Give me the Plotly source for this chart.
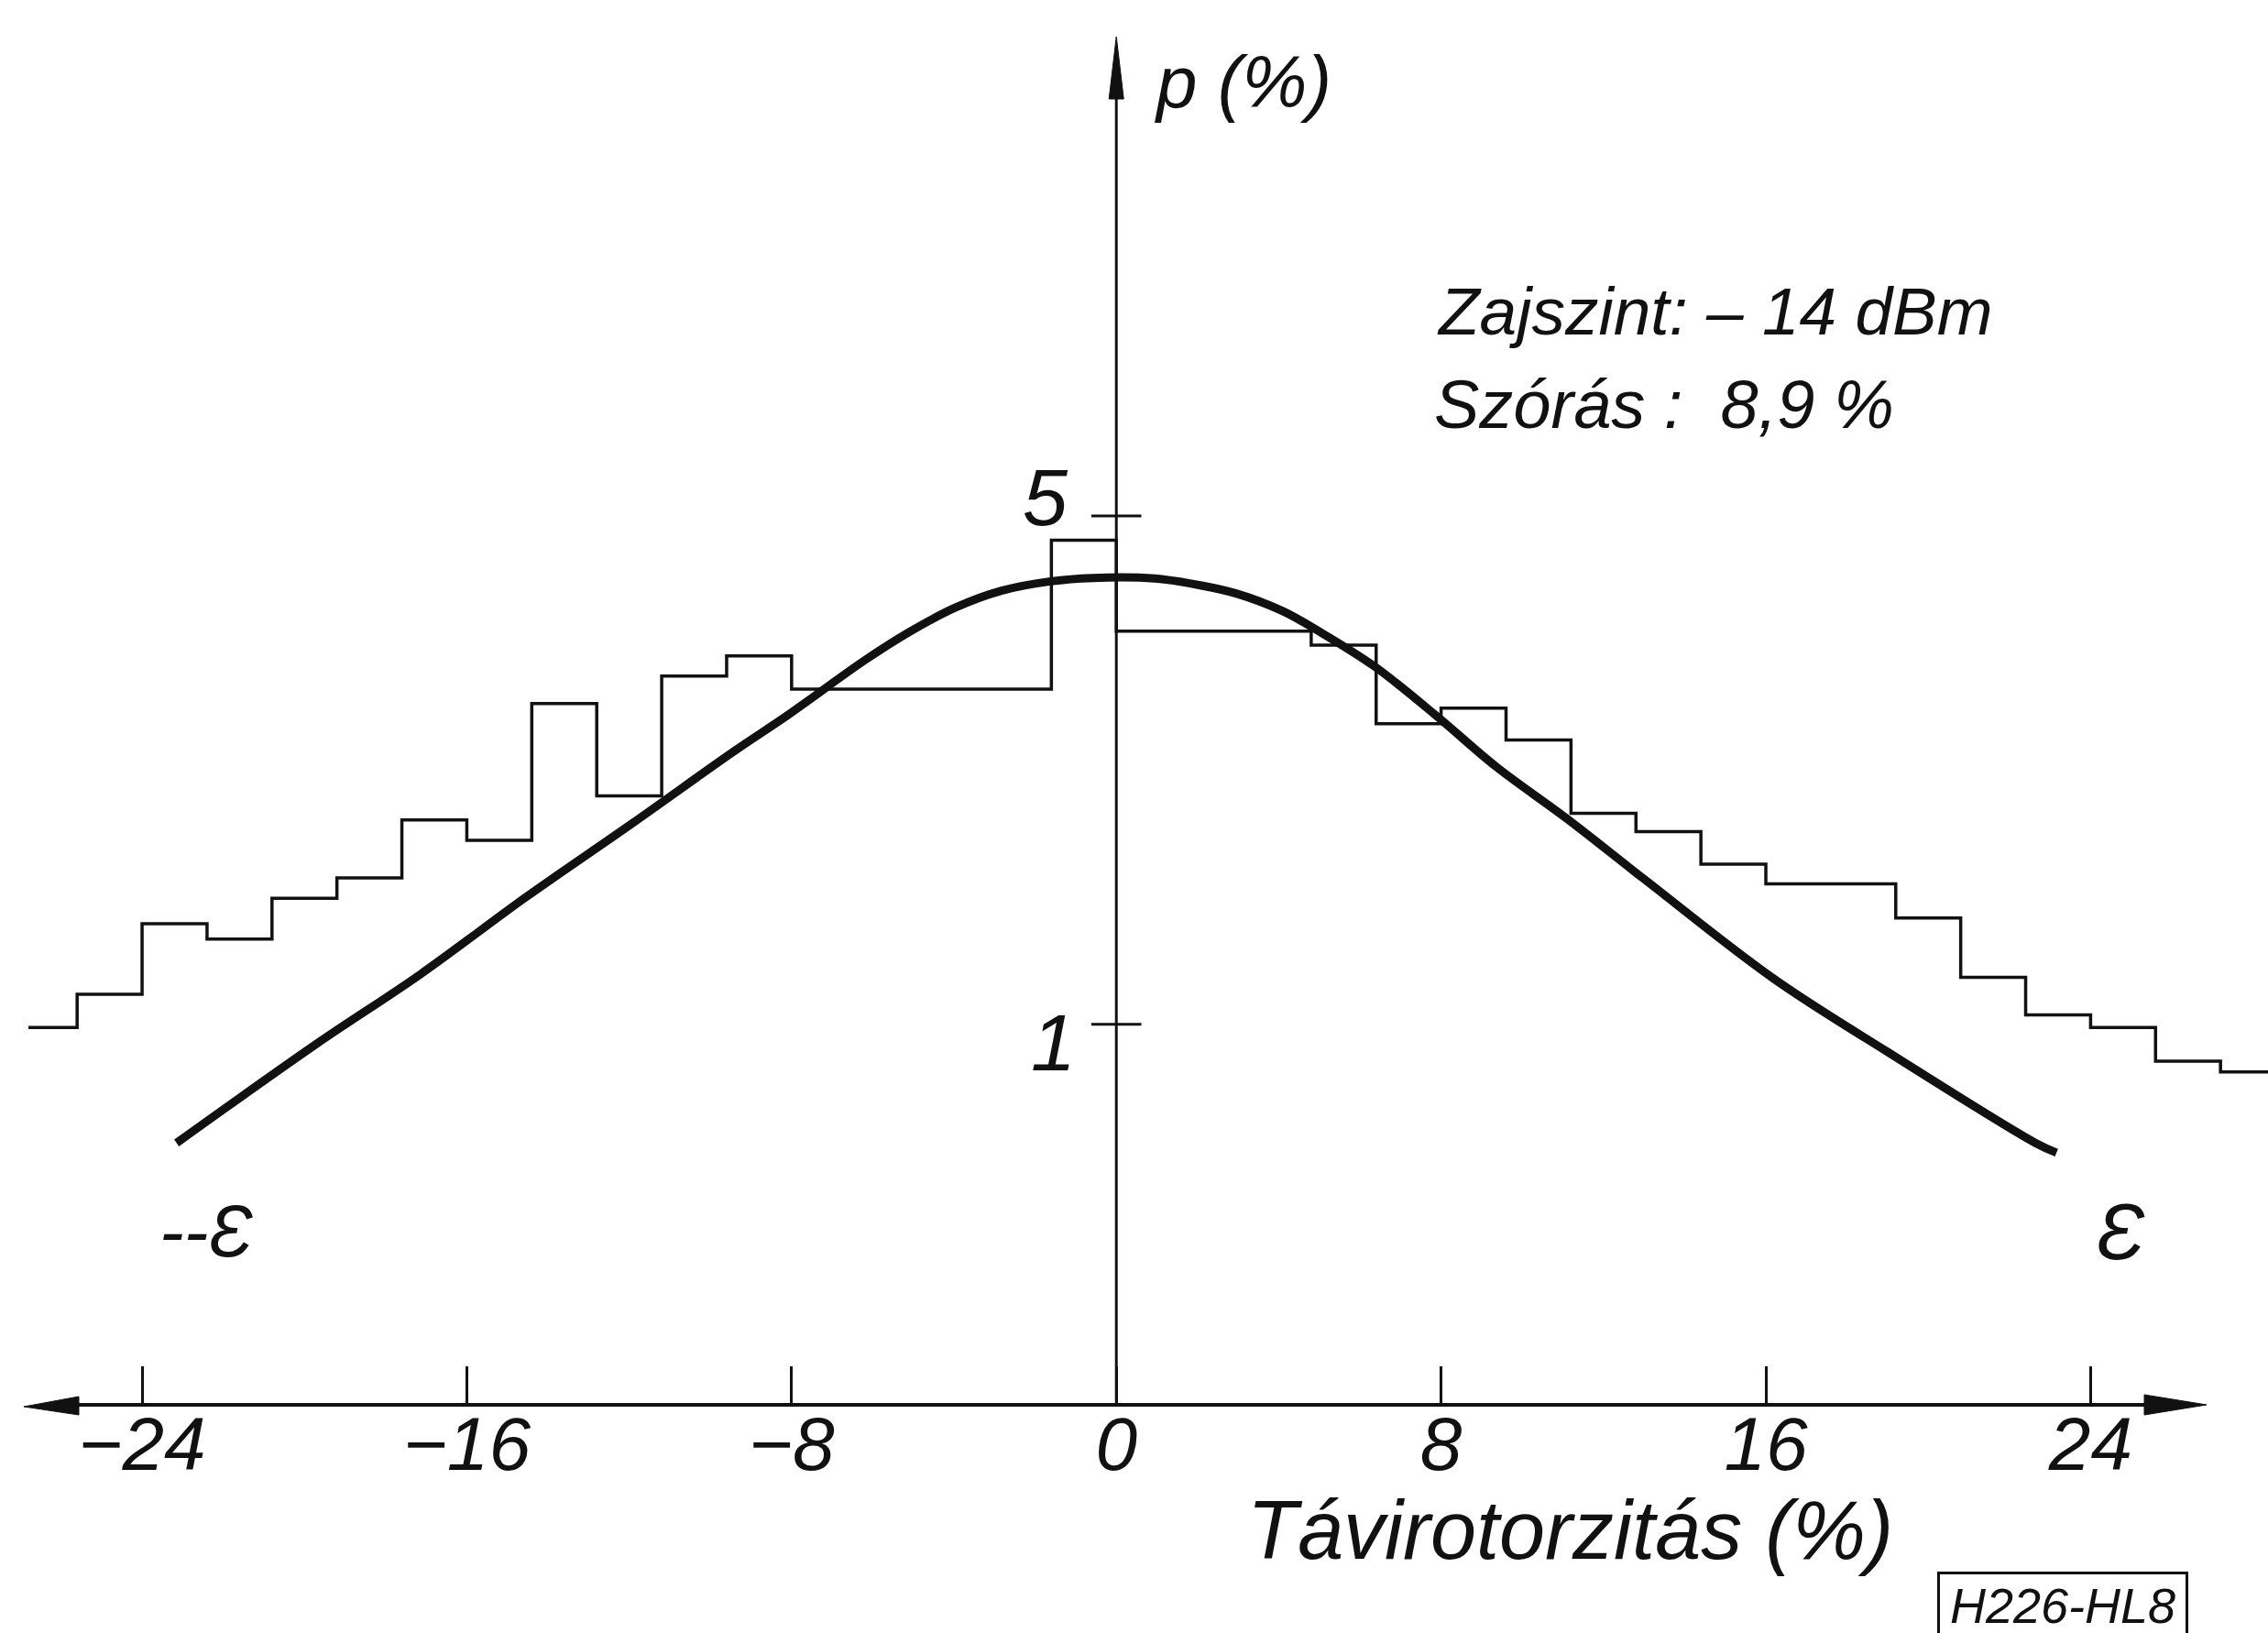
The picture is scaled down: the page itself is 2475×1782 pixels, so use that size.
import math
import plotly.graph_objects as go

# ---------------- data ----------------
# histogram of telegraph distortion, bin edges in % and p in %
bin_edges = [-26.8, -25.6, -24.0, -22.4, -20.8, -19.2, -17.6, -16.0, -14.4, -12.8,
             -11.2, -9.6, -8.0, -6.4, -4.8, -3.2, -1.6, 0.0, 1.6, 3.2,
             4.8, 6.4, 8.0, 9.6, 11.2, 12.8, 14.4, 16.0, 17.6, 19.2,
             20.8, 22.4, 24.0, 25.6, 27.2, 28.4]
bin_values = [0.99, 1.10, 1.375, 1.31, 1.49, 1.59, 1.91, 1.79, 2.76, 2.06,
              3.01, 3.21, 2.89, 2.89, 2.89, 2.89, 4.63, 3.47, 3.47, 3.47,
              3.32, 2.59, 2.72, 2.46, 1.95, 1.84, 1.66, 1.56, 1.56, 1.40,
              1.16, 1.03, 0.99, 0.89, 0.86]

# fitted distribution curve
curve_x = [-23.15, -19.74, -17.14, -14.55, -11.95, -9.40, -8.09, -6.21, -5.08,
           -3.96, -2.83, -1.62, -0.57, 0.94, 2.07, 2.97, 4.10, 5.00, 6.35,
           7.86, 9.36, 11.10, 12.98, 16.17, 18.99, 22.64, 23.16]
curve_p = [0.687, 0.937, 1.172, 1.495, 1.885, 2.377, 2.662, 3.162, 3.467,
           3.741, 3.945, 4.064, 4.108, 4.100, 4.013, 3.908, 3.698, 3.467, 3.107,
           2.662, 2.259, 1.917, 1.587, 1.158, 0.917, 0.687, 0.666]

xtick_vals = [-24, -16, -8, 0, 8, 16, 24]
xtick_text = ["\u221224", "\u221216", "\u22128", "0", "8", "16", "24"]
ytick_vals = [5, 1]
ytick_text = ["5", "1"]

# ---------------- layout constants ----------------
W, H = 2475, 1782
PLOT_BOTTOM = 1533            # pixel row of the horizontal axis
XRANGE = [-27.5, 28.37]
YRANGE = [-0.523, 1.408]      # log10(p)
FONT = "Liberation Sans, Arial, sans-serif"
INK = "#111111"


def pxx(px):
    return px / W


def pxy(py):
    return (PLOT_BOTTOM - py) / PLOT_BOTTOM


yaxis_paper_x = (0 - XRANGE[0]) / (XRANGE[1] - XRANGE[0])
yaxis_px = yaxis_paper_x * W

fig = go.Figure()

# step histogram
fig.add_trace(go.Scatter(
    x=bin_edges, y=bin_values + [bin_values[-1]],
    mode="lines", line=dict(color=INK, width=3.5, shape="hv"),
    hoverinfo="skip"))

# smooth curve
fig.add_trace(go.Scatter(
    x=curve_x, y=curve_p, mode="lines",
    line=dict(color=INK, width=9, shape="spline", smoothing=1.0),
    hoverinfo="skip"))

# y ticks crossing the vertical axis
fig.add_trace(go.Scatter(
    x=[0] * len(ytick_vals), y=ytick_vals, mode="markers",
    marker=dict(symbol="line-ew", size=39, line=dict(color=INK, width=3)),
    hoverinfo="skip"))

shapes = []
# vertical axis
shapes.append(dict(type="line", xref="x", yref="paper", x0=0, x1=0,
                   y0=0, y1=pxy(100), line=dict(color=INK, width=3)))
# vertical axis arrowhead
shapes.append(dict(type="path", xref="paper", yref="paper",
                   path="M{},{} L{},{} L{},{} Z".format(
                       pxx(yaxis_px - 8), pxy(108), pxx(yaxis_px), pxy(40),
                       pxx(yaxis_px + 8), pxy(108)),
                   fillcolor=INK, line=dict(color=INK, width=1)))
# horizontal axis
shapes.append(dict(type="line", xref="paper", yref="paper", x0=pxx(60), x1=pxx(2380),
                   y0=0, y1=0, line=dict(color=INK, width=4)))
# left arrowhead
shapes.append(dict(type="path", xref="paper", yref="paper",
                   path="M{},{} L{},{} L{},{} Z".format(
                       pxx(26), pxy(PLOT_BOTTOM + 2), pxx(86), pxy(PLOT_BOTTOM - 9),
                       pxx(86), pxy(PLOT_BOTTOM + 11)),
                   fillcolor=INK, line=dict(color=INK, width=1)))
# right arrowhead
shapes.append(dict(type="path", xref="paper", yref="paper",
                   path="M{},{} L{},{} L{},{} Z".format(
                       pxx(2408), pxy(PLOT_BOTTOM), pxx(2340), pxy(PLOT_BOTTOM - 11),
                       pxx(2340), pxy(PLOT_BOTTOM + 11)),
                   fillcolor=INK, line=dict(color=INK, width=1)))


def tfont(size):
    return dict(family=FONT, size=size, color=INK, style="italic")


annotations = []
# y tick labels
annotations.append(dict(x=0, y=math.log10(ytick_vals[0]), xref="x", yref="y",
                        text=ytick_text[0], showarrow=False, xanchor="right",
                        yanchor="middle", xshift=-50, yshift=20, font=tfont(88)))
annotations.append(dict(x=0, y=math.log10(ytick_vals[1]), xref="x", yref="y",
                        text=ytick_text[1], showarrow=False, xanchor="right",
                        yanchor="middle", xshift=-42, yshift=-20, font=tfont(88)))
# axis labels
annotations.append(dict(x=pxx(1258), y=pxy(89), xref="paper", yref="paper",
                        text="p (%)", showarrow=False, xanchor="left",
                        yanchor="middle", font=tfont(80)))
annotations.append(dict(x=pxx(1713), y=pxy(1670), xref="paper", yref="paper",
                        text="Távirotorzitás (%)", showarrow=False, xanchor="center",
                        yanchor="middle", font=tfont(90)))
# info text
annotations.append(dict(x=pxx(1566), y=pxy(339), xref="paper", yref="paper",
                        text="Zajszint: \u2013 14 dBm", showarrow=False, xanchor="left",
                        yanchor="middle", font=tfont(73)))
annotations.append(dict(x=pxx(1563), y=pxy(441), xref="paper", yref="paper",
                        text="Szórás :  8,9 %", showarrow=False, xanchor="left",
                        yanchor="middle", font=tfont(74)))
# epsilon marks
annotations.append(dict(x=pxx(225), y=pxy(1343), xref="paper", yref="paper",
                        text="--\u0190", showarrow=False, xanchor="center",
                        yanchor="middle", font=tfont(80)))
annotations.append(dict(x=pxx(2314), y=pxy(1343), xref="paper", yref="paper",
                        text="\u0190", showarrow=False, xanchor="center",
                        yanchor="middle", font=tfont(88)))
# stamp
annotations.append(dict(x=pxx(2251), y=pxy(1715), xref="paper", yref="paper",
                        text="H226-HL8", showarrow=False, xanchor="center",
                        yanchor="top", font=tfont(54), bordercolor=INK,
                        borderwidth=3, borderpad=4, width=260))

fig.update_layout(
    width=W, height=H,
    margin=dict(l=0, r=0, t=0, b=H - PLOT_BOTTOM, pad=0),
    paper_bgcolor="white", plot_bgcolor="white",
    showlegend=False,
    xaxis=dict(range=XRANGE, showgrid=False, zeroline=False, showline=False,
               ticks="inside", ticklen=42, tickwidth=3, tickcolor=INK,
               tickvals=xtick_vals, ticktext=xtick_text, tickfont=tfont(82),
               ticklabelstandoff=-12, fixedrange=True),
    yaxis=dict(type="log", range=YRANGE, visible=False, fixedrange=True),
    shapes=shapes, annotations=annotations,
)

fig.write_html("out.html")
